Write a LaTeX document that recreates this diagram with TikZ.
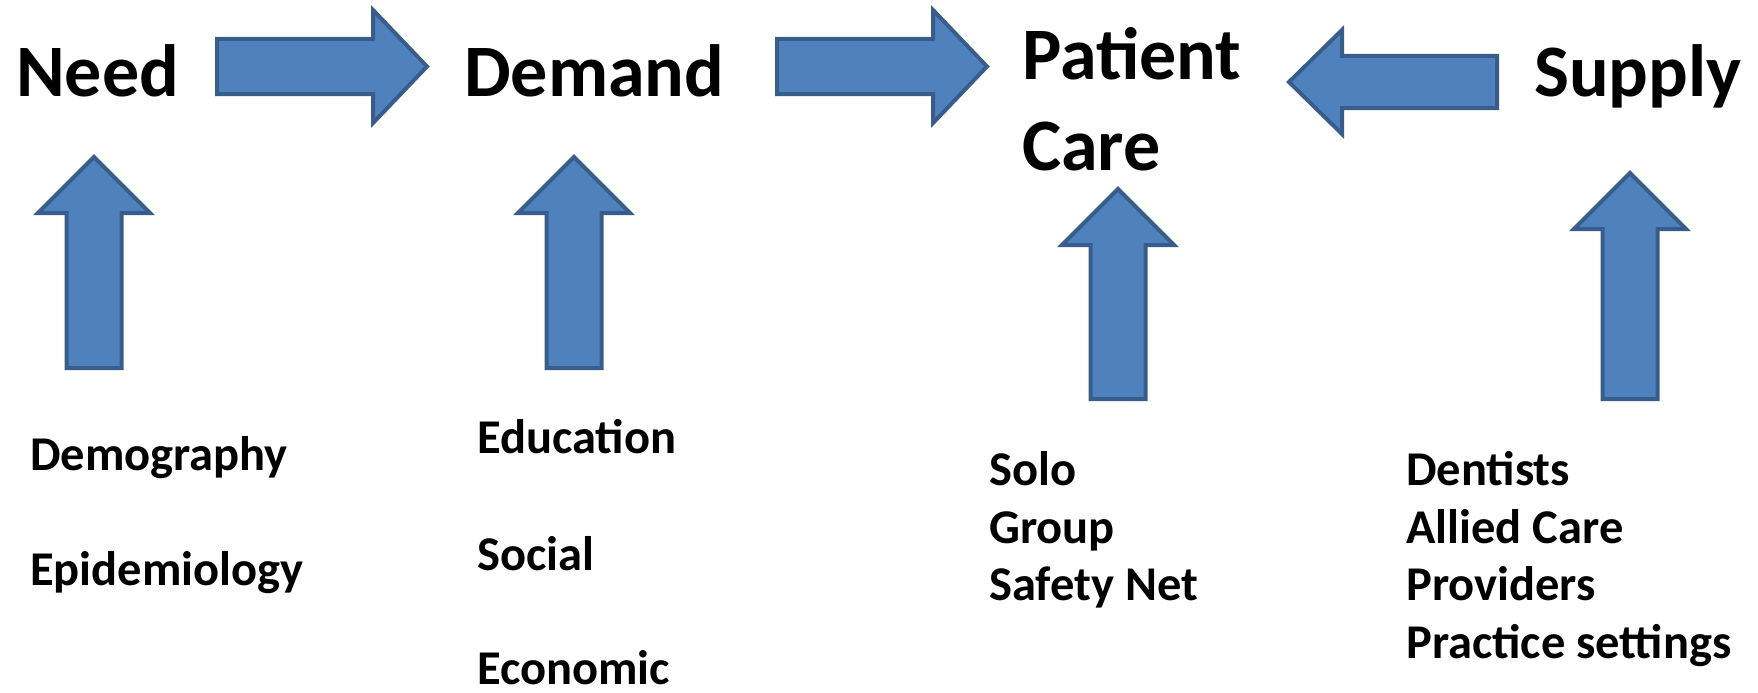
\documentclass[tikz,border=0pt]{standalone}
\usepackage{fontspec}
\setmainfont{Carlito}
\definecolor{arrowfill}{HTML}{4F81BD}
\definecolor{arrowline}{HTML}{385D8A}
\begin{document}
\begin{tikzpicture}[x=1pt,y=-1pt,
  blockarrow/.style={fill=arrowfill,draw=arrowline,line width=4pt,line join=miter},
  bigtxt/.style={anchor=base west,inner sep=0pt,font=\bfseries\fontsize{74}{89}\selectfont},
  smalltxt/.style={anchor=base west,inner sep=0pt,font=\bfseries\fontsize{48.5}{58}\selectfont}]
\useasboundingbox (0,0) rectangle (1758,693);
% main labels
\node[bigtxt] (need) at (16,96) {Need};
\node[bigtxt] (demand) at (464,96) {Demand};
\node[bigtxt] (patient) at (1022,80) {Patient};
\node[bigtxt] (care) at (1022,170) {Care};
\node[bigtxt] (supply) at (1534,96) {Supply};
% horizontal block arrows
\newcommand{\harrowR}[2]{% shaft left x, tip x
  \draw[blockarrow] (#1,39) -- (#2-54,39) -- (#2-54,10) -- (#2,66.5) -- (#2-54,123) -- (#2-54,94) -- (#1,94) -- cycle;}
\harrowR{217}{427}
\harrowR{777}{987}
\draw[blockarrow] (1497,56) -- (1342,56) -- (1342,30) -- (1289,82) -- (1342,134) -- (1342,108) -- (1497,108) -- cycle;
% vertical block arrows
\newcommand{\uparrowX}[4]{% center x, tip y, head base y, bottom y
  \draw[blockarrow] (#1-27.5,#4) -- (#1-27.5,#3) -- (#1-56,#3) -- (#1,#2) -- (#1+56,#3) -- (#1+27.5,#3) -- (#1+27.5,#4) -- cycle;}
\uparrowX{94}{157}{213}{368}
\uparrowX{574}{157}{213}{368}
\uparrowX{1118}{189}{245}{399}
\uparrowX{1630}{173}{229}{399}
% lists
\node[smalltxt] (demog) at (30,470) {Demography};
\node[smalltxt] (epid) at (30,585) {Epidemiology};
\node[smalltxt] (educ) at (477,453) {Education};
\node[smalltxt] (social) at (477,570) {Social};
\node[smalltxt] (econ) at (477,684) {Economic};
\node[smalltxt] (solo) at (989,485) {Solo};
\node[smalltxt] (group) at (989,543) {Group};
\node[smalltxt] (safety) at (989,600) {Safety Net};
\node[smalltxt] (dent) at (1406,485) {Dentists};
\node[smalltxt] (allied) at (1406,543) {Allied Care};
\node[smalltxt] (prov) at (1406,600) {Providers};
\node[smalltxt] (pract) at (1406,658) {Practice settings};
\end{tikzpicture}
\end{document}
